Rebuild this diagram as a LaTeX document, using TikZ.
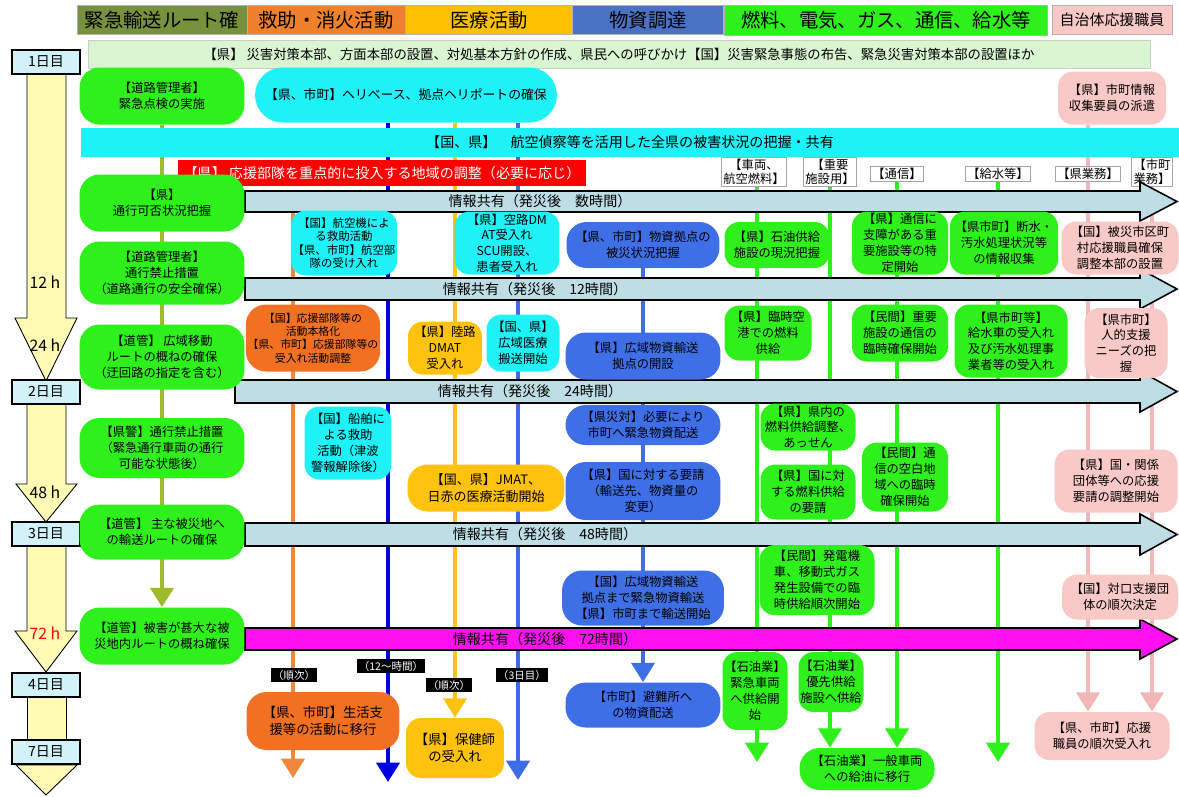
\documentclass[tikz,border=0pt]{standalone}
\usepackage{fontspec}
\setmainfont{Noto Sans CJK JP}
\usetikzlibrary{arrows.meta}

\definecolor{hdolive}{HTML}{76923C}
\definecolor{hdorange}{HTML}{F0802A}
\definecolor{hdgold}{HTML}{FFC000}
\definecolor{hdblue}{HTML}{4A72C4}
\definecolor{kgreen}{HTML}{2EF01A}
\definecolor{kcyan}{HTML}{1EF2F6}
\definecolor{korange}{HTML}{F27022}
\definecolor{kgold}{HTML}{FFC20E}
\definecolor{kblue}{HTML}{3F6FE6}
\definecolor{kpink}{HTML}{F8C9C6}
\definecolor{kpinkl}{HTML}{F2B8B8}
\definecolor{kband}{HTML}{BEDDE4}
\definecolor{kmag}{HTML}{FF10F0}
\definecolor{kpale}{HTML}{DAF5D2}
\definecolor{kyellow}{HTML}{FFFAB4}
\definecolor{kday}{HTML}{D2F2FA}
\definecolor{kolive}{HTML}{9DBB2B}
\definecolor{kdblue}{HTML}{0000E0}
\definecolor{ksblue}{HTML}{3C6CE8}
\definecolor{klorange}{HTML}{F0883C}

\pgfdeclarelayer{paper}
\pgfdeclarelayer{lines}
\pgfsetlayers{paper,lines,main}

% info band arrow: name, x start, y top, y bottom, fill
\newcommand{\infoband}[5]{%
	\draw[fill=#5, line width=0.9pt] (#2,#3) -- (1140,#3) -- (1140,#3-9) -- (1177,{(#3+#4)/2})
		-- (1140,#4+9) -- (1140,#4) -- (#2,#4) -- cycle;
	\coordinate (#1) at (#2,{(#3+#4)/2});}

\begin{document}
\begin{tikzpicture}[
	x = 0.02cm, y = -0.02cm, % one unit = one pixel, y downwards
	> = {Triangle[width=13pt,length=11pt]}, % arrow head style
	font = \fontsize{7}{9}\selectfont,
	box/.style = {rounded corners=0.4cm, align=center, inner sep=1pt},
	road/.style = {box, fill=kgreen, minimum width=3.3cm},
	res/.style = {box, fill=korange},
	air/.style = {box, fill=kcyan, rounded corners=0.3cm},
	med/.style = {box, fill=kgold, rounded corners=0.3cm},
	goods/.style = {box, fill=kblue},
	fuel/.style = {box, fill=kgreen, rounded corners=0.3cm},
	staff/.style = {box, fill=kpink, rounded corners=0.3cm},
	head/.style = {draw=gray!60, minimum height=0.58cm, font=\fontsize{11}{11}\selectfont},
	tag/.style = {draw=gray!70, fill=white, align=center, inner sep=1pt, font=\fontsize{7}{7.8}\selectfont},
	note/.style = {fill=black, text=white, inner sep=1pt, font=\fontsize{6}{6}\selectfont},
	day/.style = {draw, line width=1.4pt, fill=kday, minimum width=1.36cm, minimum height=0.44cm, font=\fontsize{8}{8}\selectfont},
	tl/.style = {draw, fill=kyellow, line width=0.5pt},
	hour/.style = {font=\fontsize{9}{9}\selectfont},
	itext/.style = {font=\fontsize{8}{8}\selectfont},
	vl/.style = {line width=2.6pt}
	]

	\begin{pgfonlayer}{paper}
		\fill[white] (0,0) rectangle (1179,796);
	\end{pgfonlayer}
	\useasboundingbox (0,0) rectangle (1179,796);

	% column heads
	\node[head, fill=hdolive, minimum width=3.4cm] (hd1) at (162,20) {緊急輸送ルート確};
	\node[head, fill=hdorange, minimum width=3.16cm] (hd2) at (326,20) {救助・消火活動};
	\node[head, fill=hdgold, minimum width=3.34cm] (hd3) at (489,20) {医療活動};
	\node[head, fill=hdblue, minimum width=3.02cm] (hd4) at (648,20) {物資調達};
	\node[head, fill=kgreen, minimum width=6.46cm] (hd5) at (886,20) {燃料、電気、ガス、通信、給水等};
	\node[head, fill=kpink, minimum width=2.4cm, font=\fontsize{8.5}{8.5}\selectfont] (hd6) at (1112,20) {自治体応援職員};

	% time line
	\draw[tl] (27,72) -- (27,318) -- (15,318) -- (46,381) -- (77,318) -- (66,318) -- (66,72) -- cycle;
	\draw[tl] (27,403) -- (27,484) -- (16,484) -- (46,522) -- (77,484) -- (66,484) -- (66,403) -- cycle;
	\draw[tl] (27,546) -- (27,631) -- (15,631) -- (46,672) -- (77,631) -- (66,631) -- (66,546) -- cycle;
	\draw[tl] (27,697) rectangle (66,741);
	\draw[tl] (16,765) -- (46,795) -- (77,765) -- cycle;
	\node[day] (d1) at (46,62) {1日目};
	\node[day] (d2) at (46,392) {2日目};
	\node[day] (d3) at (46,534) {3日目};
	\node[day] (d4) at (46,685) {4日目};
	\node[day] (d7) at (46,752) {7日目};
	\node[hour] (h12) at (45,282) {12 h};
	\node[hour] (h24) at (45,345) {24 h};
	\node[hour] (h48) at (45,492) {48 h};
	\node[hour, text=red] (h72) at (45,633) {72 h};

	% bands across all columns
	\node[fill=kpale, draw=gray!40, minimum width=21.24cm, minimum height=0.56cm, font=\fontsize{7.6}{7.6}\selectfont] (hq) at (619,54)
		{【県】 災害対策本部、方面本部の設置、対処基本方針の作成、県民への呼びかけ【国】災害緊急事態の布告、緊急災害対策本部の設置ほか};
	\node[fill=kcyan, minimum width=21.98cm, minimum height=0.58cm, itext] (recon) at (630,142)
		{【国、県】　航空偵察等を活用した全県の被害状況の把握・共有};
	\node[fill=red, text=white, minimum width=8.18cm, minimum height=0.52cm, itext] (focus) at (382,173)
		{【県】 応援部隊を重点的に投入する地域の調整（必要に応じ）};

	\node[tag] (l1) at (754,172) {【車両、\\航空燃料】};
	\node[tag] (l2) at (830,172) {【重要\\施設用】};
	\node[tag] (l3) at (897,174) {【通信】};
	\node[tag] (l4) at (998,174) {【給水等】};
	\node[tag] (l5) at (1088,174) {【県業務】};
	\node[tag] (l6) at (1152,172) {【市町\\業務】};

	% information sharing
	\infoband{i1}{245}{191}{212}{kband}
	\infoband{i2}{245}{278}{300}{kband}
	\infoband{i3}{235}{380}{403}{kband}
	\infoband{i4}{245}{523}{546}{kband}
	\infoband{i5}{245}{628}{650}{kmag}
	\node[itext] (t1) at (540,201) {情報共有（発災後　数時間）};
	\node[itext] (t2) at (535,289) {情報共有（発災後　12時間）};
	\node[itext] (t3) at (530,391) {情報共有（発災後　24時間）};
	\node[itext] (t4) at (545,534) {情報共有（発災後　48時間）};
	\node[itext] (t5) at (545,639) {情報共有（発災後　72時間）};

	% road routes
	\node[road] (r1) at (162,96) [minimum height=1.14cm] {【道路管理者】\\緊急点検の実施};
	\node[road] (r2) at (162,203) [minimum height=1.14cm] {【県】\\通行可否状況把握};
	\node[road] (r3) at (162,273) [minimum height=1.26cm] {【道路管理者】\\通行禁止措置\\（道路通行の安全確保）};
	\node[road] (r4) at (162,357) [minimum height=1.3cm] {【道管】 広域移動\\ルートの概ねの確保\\（迂回路の指定を含む）};
	\node[road] (r5) at (162,448) [minimum height=1.2cm] {【県警】通行禁止措置\\（緊急通行車両の通行\\可能な状態後）};
	\node[road] (r6) at (162,532) [minimum height=1.1cm] {【道管】 主な被災地へ\\の輸送ルートの確保};
	\node[road] (r7) at (162,636) [minimum height=1.14cm] {【道管】被害が甚大な被\\災地内ルートの概ね確保};

	% rescue
	\node[res, minimum width=2.66cm, minimum height=1.34cm, font=\fontsize{6.2}{7.6}\selectfont] (k1) at (313,338)
		{【国】応援部隊等の\\活動本格化\\【県、市町】応援部隊等の\\受入れ活動調整};
	\node[res, minimum width=3.06cm, minimum height=1.16cm, font=\fontsize{7.6}{10}\selectfont] (k2) at (323,721)
		{【県、市町】生活支\\援等の活動に移行};
	\node[air, minimum width=6.04cm, minimum height=1.1cm, rounded corners=0.55cm, font=\fontsize{7.3}{9}\selectfont] (heli) at (406,95)
		{【県、市町】ヘリベース、拠点ヘリポートの確保};
	\node[air, minimum width=1.64cm, minimum height=1.3cm, font=\fontsize{6.5}{7.6}\selectfont] (k3) at (344,243)
		{【国】航空機によ\\る救助活動\\【県、市町】航空部\\隊の受け入れ};
	\node[air, minimum width=1.74cm, minimum height=1.46cm] (k4) at (348,443)
		{【国】船舶に\\よる救助\\活動（津波\\警報解除後）};

	% medical
	\node[air, minimum width=2.1cm, minimum height=1.26cm] (m1) at (507,243) {【県】空路DM\\AT受入れ\\SCU開設、\\患者受入れ};
	\node[air, minimum width=1.46cm, minimum height=1.14cm] (m2) at (523,343) {【国、県】\\広域医療\\搬送開始};
	\node[med, minimum width=1.48cm, minimum height=1.06cm] (m3) at (445,348) {【県】陸路\\DMAT\\受入れ};
	\node[med, minimum width=3.14cm, minimum height=0.94cm, rounded corners=0.4cm, font=\fontsize{7.4}{9.5}\selectfont] (m4) at (486,488)
		{【国、県】JMAT、\\日赤の医療活動開始};
	\node[med, minimum width=1.96cm, minimum height=1.2cm, font=\fontsize{7.6}{10}\selectfont] (m5) at (455,748) {【県】保健師\\の受入れ};

	% goods
	\node[goods, minimum width=3.06cm, minimum height=0.92cm] (b1) at (643,245) {【県、市町】物資拠点の\\被災状況把握};
	\node[goods, minimum width=3.1cm, minimum height=0.94cm] (b2) at (643,356) {【県】広域物資輸送\\拠点の開設};
	\node[goods, minimum width=3.1cm, minimum height=0.8cm] (b3) at (643,425) {【県災対】必要により\\市町へ緊急物資配送};
	\node[goods, minimum width=3.1cm, minimum height=1.16cm] (b4) at (643,491) {【県】国に対する要請\\（輸送先、物資量の\\変更）};
	\node[goods, minimum width=3.24cm, minimum height=1.1cm] (b5) at (643,598) {【国】広域物資輸送\\拠点まで緊急物資輸送\\【県】市町まで輸送開始};
	\node[goods, minimum width=3.1cm, minimum height=0.9cm] (b6) at (643,705) {【市町】避難所へ\\の物資配送};

	% fuel, power, gas, telecom, water
	\node[fuel, minimum width=2.1cm, minimum height=0.92cm] (g1) at (777,245) {【県】石油供給\\施設の現況把握};
	\node[fuel, minimum width=1.92cm, minimum height=1.26cm] (g2) at (900,243) {【県】通信に\\支障がある重\\要施設等の特\\定開始};
	\node[fuel, minimum width=2.16cm, minimum height=1.26cm] (g3) at (1004,243) {【県市町】断水・\\汚水処理状況等\\の情報収集};
	\node[fuel, minimum width=1.74cm, minimum height=1.1cm] (g4) at (768,333) {【県】臨時空\\港での燃料\\供給};
	\node[fuel, minimum width=1.92cm, minimum height=1.14cm] (g5) at (900,333) {【民間】重要\\施設の通信の\\臨時確保開始};
	\node[fuel, minimum width=2.26cm, minimum height=1.46cm] (g6) at (1011,341) {【県市町等】\\給水車の受入れ\\及び汚水処理事\\業者等の受入れ};
	\node[fuel, minimum width=1.9cm, minimum height=0.94cm] (g7) at (808,427) {【県】県内の\\燃料供給調整、\\あっせん};
	\node[fuel, minimum width=1.9cm, minimum height=1.1cm] (g8) at (808,492) {【県】国に対\\する燃料供給\\の要請};
	\node[fuel, minimum width=1.72cm, minimum height=1.38cm] (g9) at (905,477) {【民間】通\\信の空白地\\域への臨時\\確保開始};
	\node[fuel, minimum width=2.3cm, minimum height=1.4cm] (g10) at (817,580) {【民間】発電機\\車、移動式ガス\\発生設備での臨\\時供給順次開始};
	\node[fuel, minimum width=1.2cm, minimum height=1.56cm] (g11) at (755,691) {【石油業】\\緊急車両\\へ供給開\\始};
	\node[fuel, minimum width=1.24cm, minimum height=1.2cm] (g12) at (831,682) {【石油業】\\優先供給\\施設へ供給};
	\node[fuel, minimum width=2.7cm, minimum height=0.84cm, rounded corners=0.4cm] (g13) at (867,769) {【石油業】一般車両\\への給油に移行};

	% staff from other municipalities
	\node[staff, minimum width=2.16cm, minimum height=1.06cm] (p1) at (1112,98) {【県】市町情報\\収集要員の派遣};
	\node[staff, minimum width=2.34cm, minimum height=1.06cm] (p2) at (1120,248) {【国】被災市区町\\村応援職員確保\\調整本部の設置};
	\node[staff, minimum width=1.66cm, minimum height=1.4cm] (p3) at (1126,343) {【県市町】\\人的支援\\ニーズの把\\握};
	\node[staff, minimum width=2.46cm, minimum height=1.26cm] (p4) at (1116,481) {【県】国・関係\\団体等への応援\\要請の調整開始};
	\node[staff, minimum width=2.32cm, minimum height=0.9cm] (p5) at (1120,597) {【国】対口支援団\\体の順次決定};
	\node[staff, minimum width=2.7cm, minimum height=0.96cm] (p6) at (1102,736) {【県、市町】応援\\職員の順次受入れ};

	% timing notes
	\node[note] (n1) at (294,675) {（順次）};
	\node[note] (n2) at (391,666) {（12～時間）};
	\node[note] (n3) at (449,685) {（順次）};
	\node[note] (n4) at (522,675) {（3日目）};

	\coordinate (oe) at (293,778);
	\coordinate (os) at (293,205);
	\coordinate (db) at (388,782);
	\coordinate (sb) at (518,780);
	\coordinate (e1) at (757,762);
	\coordinate (e4) at (998,762);

	\begin{pgfonlayer}{lines}
		\draw[vl, kolive, ->] (r1) -- (r7);
		\draw[vl, klorange, ->] (os) -- (oe);
		\draw[vl, kdblue, ->] (heli.south -| db) -- (db);
		\draw[vl, kgold, ->] (heli.south -| m5.north) -- (m5.north);
		\draw[vl, ksblue, ->] (heli.south -| sb) -- (sb);
		\draw[vl, kblue, ->] (b1) -- (b6);
		\draw[vl, kgreen, ->] (l1.south -| e1) -- (e1);
		\draw[vl, kgreen, ->] (l2) -- (l2 |- g13.north);
		\draw[vl, kgreen, ->] (l3) -- (l3 |- g13.north);
		\draw[vl, kgreen, ->] (l4) -- (e4);
		\draw[vl, kpinkl, ->] (p1.south -| l5) -- (l5 |- p6.north);
		\draw[vl, kpinkl, ->] (l6) -- (l6 |- p6.north);
	\end{pgfonlayer}

\end{tikzpicture}
\end{document}
